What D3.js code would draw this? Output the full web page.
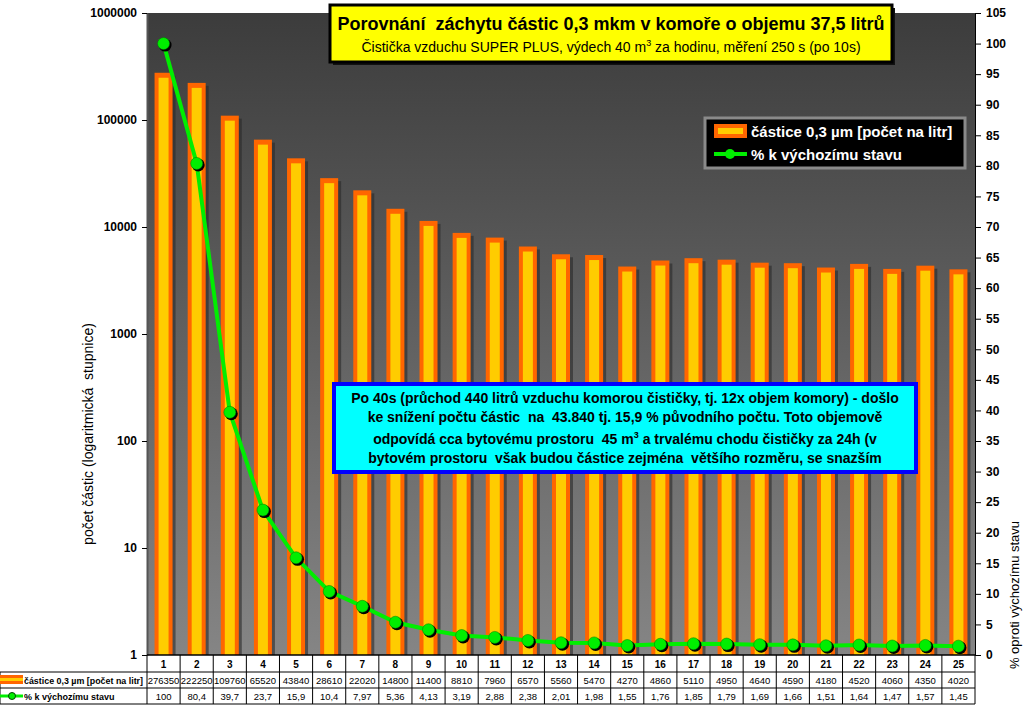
<!DOCTYPE html>
<html><head><meta charset="utf-8">
<script src="https://cdn.jsdelivr.net/npm/d3@7"></script>
<style>body{margin:0;background:#fff}svg{display:block;font-family:Arial,"Liberation Sans",sans-serif}svg text{white-space:pre}</style>
</head><body>
<svg id="c" width="1024" height="716"></svg>
<script>
const categories = ["1","2","3","4","5","6","7","8","9","10","11","12","13","14","15","16","17","18","19","20","21","22","23","24","25"];
const particles = [276350,222250,109760,65520,43840,28610,22020,14800,11400,8810,7960,6570,5560,5470,4270,4860,5110,4950,4640,4590,4180,4520,4060,4350,4020];
const percent = [100,80.4,39.7,23.7,15.9,10.4,7.97,5.36,4.13,3.19,2.88,2.38,2.01,1.98,1.55,1.76,1.85,1.79,1.69,1.66,1.51,1.64,1.47,1.57,1.45];
const leftTicks = [1,10,100,1000,10000,100000,1000000];
const rightTicks = d3.range(0,106,5);
const seriesNames = ["částice 0,3 µm [počet na litr]","% k výchozímu stavu"];

const svg = d3.select("#c");
const L=147,R=975,T=13,B=655;
const x = d3.scaleBand().domain(categories).range([L,R]);
const yL = d3.scaleLog().domain([1,1000000]).range([B,T]);
const yR = d3.scaleLinear().domain([0,105]).range([B,T]);

const defs = svg.append("defs");
const g = defs.append("linearGradient").attr("id","bg").attr("x1",0).attr("x2",0).attr("y1",0).attr("y2",1);
g.append("stop").attr("offset","0%").attr("stop-color","#3c3c3c");
g.append("stop").attr("offset","100%").attr("stop-color","#858585");
svg.append("rect").attr("x",L).attr("y",T).attr("width",R-L).attr("height",B-T).attr("fill","url(#bg)");

// bars
const bw = 18;
const bars = svg.append("g");
particles.forEach((v,i)=>{
  const cx = x(categories[i]) + x.bandwidth()/2;
  const y0 = yL(v);
  bars.append("rect").attr("x",cx-bw/2+3).attr("y",y0+3).attr("width",bw).attr("height",B-y0-3).attr("fill","#2a2a2a").attr("opacity",0.6);
  bars.append("rect").attr("x",cx-bw/2).attr("y",y0).attr("width",bw).attr("height",B-y0).attr("fill","#ff6600");
  bars.append("rect").attr("x",cx-bw/2+4).attr("y",y0+5).attr("width",bw-8).attr("height",B-y0-5).attr("fill","#ffcc00");
});

// line
const lineGen = d3.line().x((d,i)=>x(categories[i])+x.bandwidth()/2).y(d=>yR(d));
svg.append("path").datum(percent).attr("d",lineGen).attr("fill","none").attr("stroke","#00ee00").attr("stroke-width",4);
const pts = svg.append("g");
percent.forEach((v,i)=>{
  const cx = x(categories[i])+x.bandwidth()/2, cy=yR(v);
  pts.append("circle").attr("cx",cx+1.5).attr("cy",cy+1.5).attr("r",6.5).attr("fill","#000");
  pts.append("circle").attr("cx",cx).attr("cy",cy).attr("r",6).attr("fill","#00ee00").attr("stroke","#007700").attr("stroke-width",0.5);
});

// axes
const axL = svg.append("g").attr("transform",`translate(${L},0)`).call(d3.axisLeft(yL).tickValues(leftTicks).tickFormat(d3.format("d")).tickSize(5).tickSizeOuter(0));
axL.select(".domain").attr("stroke","#555").attr("stroke-width",2);
axL.selectAll("text").attr("font-size",12).attr("font-weight","bold").attr("fill","#000").attr("dx",-2);
const axR = svg.append("g").attr("transform",`translate(${R},0)`).call(d3.axisRight(yR).tickValues(rightTicks).tickSize(6).tickSizeOuter(0));
axR.select(".domain").attr("stroke","#000");
axR.selectAll("text").attr("font-size",12).attr("font-weight","bold").attr("fill","#000").attr("dx",2);

svg.append("text").attr("transform","translate(93,434) rotate(-90)").attr("text-anchor","middle").attr("font-size",14).text("počet částic (logaritmická  stupnice)");
svg.append("text").attr("transform","translate(1019,595) rotate(-90)").attr("text-anchor","middle").attr("font-size",13).text("% oproti výchozímu stavu");

// data table
const tb = svg.append("g");
const rows=[655,672,688,704];
rows.forEach((yy,k)=>tb.append("line").attr("x1",k===0?L:0).attr("x2",R).attr("y1",yy).attr("y2",yy).attr("stroke","#000").attr("stroke-width",k===0?1.5:1));
tb.append("line").attr("x1",0).attr("x2",0).attr("y1",672).attr("y2",704).attr("stroke","#000");
categories.forEach((c,i)=>{
  const x0=x(c), cx=x0+x.bandwidth()/2;
  tb.append("line").attr("x1",x0).attr("x2",x0).attr("y1",655).attr("y2",704).attr("stroke","#000");
  tb.append("text").attr("x",cx).attr("y",668).attr("text-anchor","middle").attr("font-size",10).attr("font-weight","bold").text(c);
  tb.append("text").attr("x",cx).attr("y",684).attr("text-anchor","middle").attr("font-size",9.5).text(particles[i]);
  tb.append("text").attr("x",cx).attr("y",700).attr("text-anchor","middle").attr("font-size",9.5).text(String(percent[i]).replace(".",","));
});
tb.append("line").attr("x1",R).attr("x2",R).attr("y1",655).attr("y2",704).attr("stroke","#000");
tb.append("rect").attr("x",0).attr("y",675).attr("width",23).attr("height",9).attr("fill","#ff6600");
tb.append("rect").attr("x",0).attr("y",678).attr("width",23).attr("height",3).attr("fill","#ffcc00");
tb.append("text").attr("x",24).attr("y",684).attr("font-size",9).attr("font-weight","bold").attr("textLength",119).attr("lengthAdjust","spacingAndGlyphs").text(seriesNames[0]);
tb.append("line").attr("x1",0).attr("x2",23).attr("y1",696).attr("y2",696).attr("stroke","#00ee00").attr("stroke-width",3);
tb.append("circle").attr("cx",12).attr("cy",696).attr("r",3.5).attr("fill","#00ee00").attr("stroke","#004400");
tb.append("text").attr("x",24).attr("y",700).attr("font-size",9).attr("font-weight","bold").text(seriesNames[1]);

// title box
svg.append("rect").attr("x",333).attr("y",8).attr("width",562).attr("height",57).attr("fill","#111");
svg.append("rect").attr("x",330).attr("y",5).attr("width",562).attr("height",57).attr("fill","#ffff00").attr("stroke","#000").attr("stroke-width",3);
svg.append("text").attr("x",611).attr("y",30).attr("text-anchor","middle").attr("font-size",18).attr("font-weight","bold").text("Porovnání  záchytu částic 0,3 mkm v komoře o objemu 37,5 litrů");
const st = svg.append("text").attr("x",611).attr("y",52).attr("text-anchor","middle").attr("font-size",14);
st.append("tspan").text("Čistička vzduchu SUPER PLUS, výdech 40 m");
st.append("tspan").attr("dy",-6).attr("font-size",9).text("3");
st.append("tspan").attr("dy",6).text(" za hodinu, měření 250 s (po 10s)");

// legend
const lg = svg.append("g");
lg.append("rect").attr("x",705).attr("y",118).attr("width",260).attr("height",50).attr("fill","#000").attr("stroke","#8a8a8a").attr("stroke-width",3);
lg.append("rect").attr("x",714).attr("y",124).attr("width",33).attr("height",14).attr("fill","#ff6600");
lg.append("rect").attr("x",718).attr("y",128).attr("width",25).attr("height",6).attr("fill","#ffcc00");
lg.append("text").attr("x",751).attr("y",137).attr("font-size",15).attr("font-weight","bold").attr("fill","#fff").text(seriesNames[0]);
lg.append("line").attr("x1",714).attr("x2",747).attr("y1",154).attr("y2",154).attr("stroke","#00ee00").attr("stroke-width",4);
lg.append("circle").attr("cx",730).attr("cy",154).attr("r",5).attr("fill","#00ee00");
lg.append("text").attr("x",751).attr("y",160).attr("font-size",15).attr("font-weight","bold").attr("fill","#fff").text(seriesNames[1]);

// annotation
svg.append("rect").attr("x",334).attr("y",384).attr("width",582).attr("height",88).attr("fill","#00ffff").attr("stroke","#0000ff").attr("stroke-width",4);
const lines = [
  ["Po 40s (průchod 440 litrů vzduchu komorou čističky, tj. 12x objem komory) - došlo"],
  ["ke snížení počtu částic  na  43.840 tj. 15,9 % původního počtu. Toto objemově"],
  ["odpovídá cca bytovému prostoru  45 m","3"," a trvalému chodu čističky za 24h (v"],
  ["bytovém prostoru  však budou částice zejména  většího rozměru, se snazším"]
];
const ly=[403,422,444,463];
lines.forEach((ln,k)=>{
  const t=svg.append("text").attr("x",625).attr("y",ly[k]).attr("text-anchor","middle").attr("font-size",14).attr("font-weight","bold");
  if(ln.length===1) t.text(ln[0]);
  else { t.append("tspan").text(ln[0]); t.append("tspan").attr("dy",-6).attr("font-size",9).text(ln[1]); t.append("tspan").attr("dy",6).text(ln[2]); }
});
</script>
</body></html>
